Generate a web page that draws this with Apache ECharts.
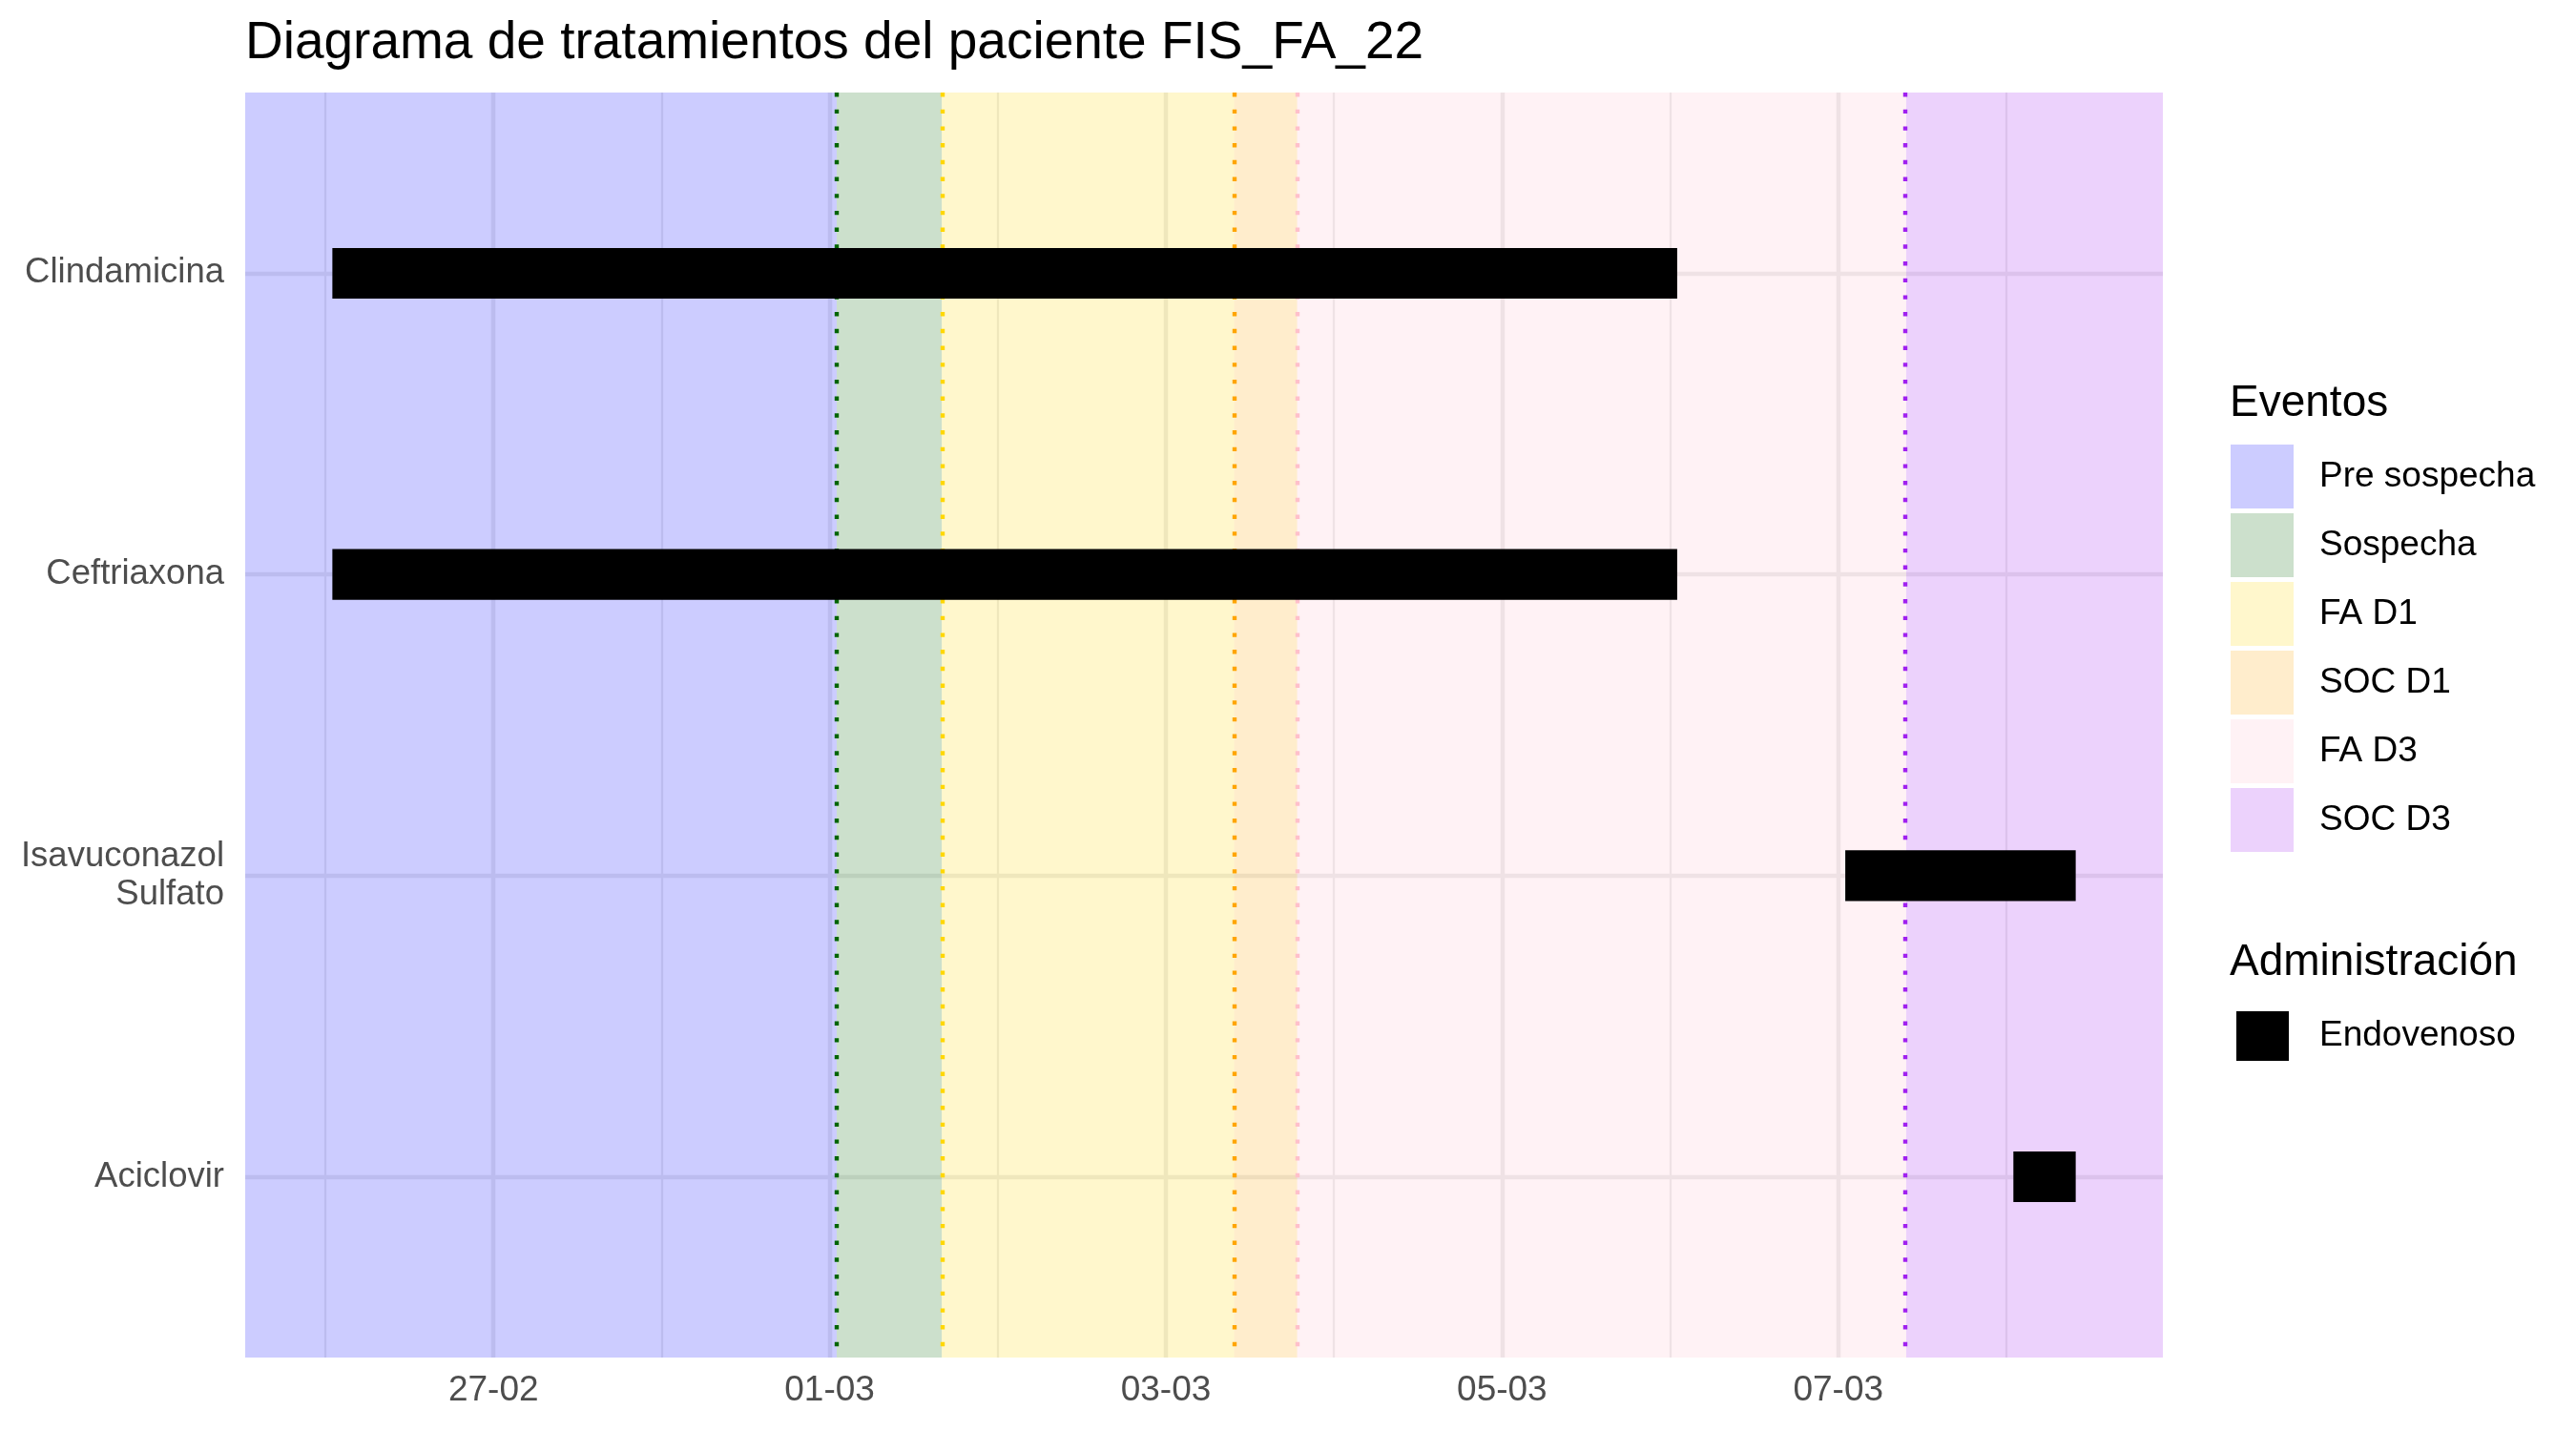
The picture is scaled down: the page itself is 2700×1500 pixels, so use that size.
<!DOCTYPE html>
<html>
<head>
<meta charset="utf-8">
<script src="https://cdn.jsdelivr.net/npm/echarts@6/dist/echarts.min.js"></script>
<style>
html,body{margin:0;padding:0;background:#fff;}
#chart{width:2700px;height:1500px;}
</style>
</head>
<body>
<div id="chart"></div>
<script>
// ---------------- DATA ----------------
const chartTitle = 'Diagrama de tratamientos del paciente FIS_FA_22';
const drugs = ['Clindamicina', 'Ceftriaxona', 'Isavuconazol\nSulfato', 'Aciclovir'];
const drugStart = ['2023-02-26 01:00', '2023-02-26 01:00', '2023-03-07 01:00', '2023-03-08 01:00'];
const drugEnd   = ['2023-03-06 01:00', '2023-03-06 01:00', '2023-03-08 09:54', '2023-03-08 09:54'];
const adminName = 'Endovenoso';

const eventNames  = ['Pre sospecha', 'Sospecha', 'FA D1', 'SOC D1', 'FA D3', 'SOC D3'];
const eventStart  = [null, '2023-03-01 01:00', '2023-03-01 16:00', '2023-03-03 09:46', '2023-03-03 18:45', '2023-03-07 09:42'];
const eventColors = ['#0000FF', '#006400', '#FFD700', '#FFA500', '#FFC0CB', '#A020F0'];

// ---------------- HELPERS ----------------
const EPOCH = Date.UTC(2022, 11, 31);
function toDay(s) {
  const m = s.match(/(\d+)-(\d+)-(\d+) (\d+):(\d+)/);
  const t = Date.UTC(+m[1], +m[2] - 1, +m[3], +m[4], +m[5]);
  return (t - EPOCH) / 86400000;
}
function dayLabel(v) {
  if (Math.abs(v - Math.round(v)) > 1e-6) return '';
  const d = new Date(EPOCH + Math.round(v) * 86400000);
  const dd = String(d.getUTCDate()).padStart(2, '0');
  const mm = String(d.getUTCMonth() + 1).padStart(2, '0');
  return dd + '-' + mm;
}
function rgba(hex, a) {
  const r = parseInt(hex.slice(1, 3), 16), g = parseInt(hex.slice(3, 5), 16), b = parseInt(hex.slice(5, 7), 16);
  return 'rgba(' + r + ',' + g + ',' + b + ',' + a + ')';
}

const barData = drugs.map((d, i) => [toDay(drugStart[i]), toDay(drugEnd[i]), i]);
const allX = barData.flatMap(r => [r[0], r[1]]).concat(eventStart.filter(Boolean).map(toDay));
const dMin = Math.min.apply(null, allX), dMax = Math.max.apply(null, allX);
const pad = (dMax - dMin) * 0.05;
const xMin = dMin - pad, xMax = dMax + pad;

const FONT = '"Liberation Sans", Arial, Helvetica, sans-serif';

// ---------------- SERIES ----------------
const eventSeries = eventNames.map((name, i) => {
  const s = eventStart[i] ? toDay(eventStart[i]) : xMin;
  const e = (i + 1 < eventStart.length) ? toDay(eventStart[i + 1]) : xMax;
  const ser = {
    name: name,
    type: 'line',
    data: [],
    color: rgba(eventColors[i], 0.2),
    itemStyle: { color: rgba(eventColors[i], 0.2) },
    silent: true,
    markArea: {
      silent: true,
      z: 1,
      itemStyle: { color: rgba(eventColors[i], 0.2), borderWidth: 0 },
      data: [[{ xAxis: s }, { xAxis: e }]]
    }
  };
  if (eventStart[i]) {
    ser.markLine = {
      silent: true,
      z: 5,
      symbol: ['none', 'none'],
      label: { show: false },
      lineStyle: { color: eventColors[i], width: 4.4, type: [4.4, 13.3], cap: 'butt' },
      data: [{ xAxis: s }]
    };
  }
  return ser;
});

const barSeries = {
  name: adminName,
  type: 'custom',
  z: 10,
  color: '#000000',
  itemStyle: { color: '#000000' },
  encode: { x: [0, 1], y: 2 },
  data: barData,
  renderItem: function (params, api) {
    const y = api.value(2);
    const p0 = api.coord([api.value(0), y]);
    const p1 = api.coord([api.value(1), y]);
    const h = api.size([0, 0.168])[1];
    return {
      type: 'rect',
      shape: { x: p0[0], y: p0[1] - h / 2, width: p1[0] - p0[0], height: h },
      style: { fill: '#000000' }
    };
  }
};

// ---------------- OPTION ----------------
const option = {
  animation: false,
  backgroundColor: '#ffffff',
  textStyle: { fontFamily: FONT },
  title: [
    { text: chartTitle, left: 257, top: 18, padding: 0,
      textStyle: { fontFamily: FONT, fontSize: 55, fontWeight: 'normal', color: '#000000' } },
    { text: 'Eventos', left: 2337, top: 400, padding: 0,
      textStyle: { fontFamily: FONT, fontSize: 46, fontWeight: 'normal', color: '#000000' } },
    { text: 'Administración', left: 2337, top: 986, padding: 0,
      textStyle: { fontFamily: FONT, fontSize: 46, fontWeight: 'normal', color: '#000000' } }
  ],
  legend: [
    {
      data: eventNames,
      orient: 'vertical', left: 2338, top: 466, padding: 0,
      icon: 'rect', itemWidth: 66, itemHeight: 67, itemGap: 5,
      selectedMode: false,
      itemStyle: { borderWidth: 0 },
      textStyle: { fontFamily: FONT, fontSize: 37, color: '#000000', padding: [0, 0, 0, 22] }
    },
    {
      data: [adminName],
      orient: 'vertical', left: 2344, top: 1060, padding: 0,
      icon: 'rect', itemWidth: 55, itemHeight: 52,
      selectedMode: false,
      itemStyle: { borderWidth: 0 },
      textStyle: { fontFamily: FONT, fontSize: 37, color: '#000000', padding: [0, 0, 0, 27] }
    }
  ],
  grid: { left: 257, right: 433, top: 97, bottom: 77, containLabel: false },
  xAxis: {
    type: 'value',
    min: xMin, max: xMax,
    minInterval: 2, maxInterval: 2,
    axisLine: { show: false },
    axisTick: { show: false },
    minorTick: { show: false, splitNumber: 2 },
    axisLabel: {
      formatter: dayLabel, showMinLabel: false, showMaxLabel: false,
      color: '#4D4D4D', fontSize: 37, fontFamily: FONT, margin: 16
    },
    splitLine: { show: true, showMinLine: false, showMaxLine: false, lineStyle: { color: '#EBEBEB', width: 4.4 } },
    minorSplitLine: { show: true, lineStyle: { color: '#EBEBEB', width: 2.2 } }
  },
  yAxis: {
    type: 'value',
    inverse: true,
    min: -0.6, max: drugs.length - 1 + 0.6,
    minInterval: 1, maxInterval: 1,
    axisLine: { show: false },
    axisTick: { show: false },
    axisLabel: {
      formatter: function (v) {
        if (Math.abs(v - Math.round(v)) > 1e-6) return '';
        return drugs[Math.round(v)] || '';
      },
      showMinLabel: false, showMaxLabel: false,
      color: '#4D4D4D', fontSize: 36.5, lineHeight: 40, fontFamily: FONT, margin: 22, align: 'right'
    },
    splitLine: { show: true, showMinLine: false, showMaxLine: false, lineStyle: { color: '#EBEBEB', width: 4.4 } }
  },
  series: eventSeries.concat([barSeries])
};

const chart = echarts.init(document.getElementById('chart'), null, { renderer: 'canvas', width: 2700, height: 1500 });
chart.setOption(option);
</script>
</body>
</html>
